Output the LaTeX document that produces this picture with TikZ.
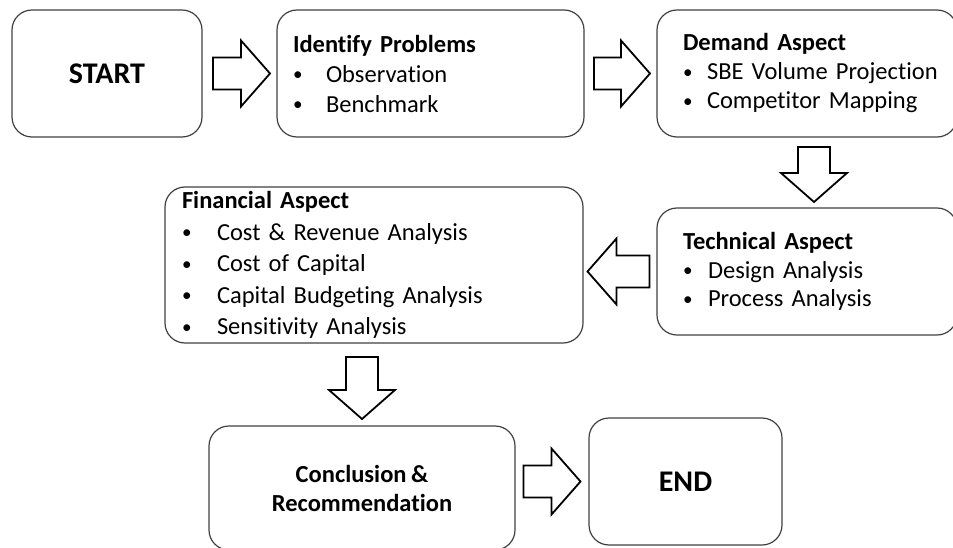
\documentclass[tikz,border=0pt]{standalone}
\usepackage{fontspec}
\setmainfont{Carlito}[Ligatures=CommonOff, WordSpace=0.8]
\usetikzlibrary{calc}

\tikzset{
  stepbox/.style={draw=black!75, line width=1.2pt, rounded corners=20pt,
    outer sep=0pt, inner ysep=0pt, anchor=north west, text=black,
    font=\fontsize{24.5}{30}\selectfont},
  listbox/.style n args={3}{stepbox, minimum width=#1pt, minimum height=#2pt,
    inner xsep=#3pt, text width={#1pt-2*#3pt}, align=left},
  termbox/.style n args={2}{stepbox, minimum width=#1pt, minimum height=#2pt,
    align=center, font=\fontsize{30}{34}\selectfont\bfseries},
  flowarrow/.style={draw=black, line width=1.8pt, fill=white, line join=miter},
}

% bullet item: a small bullet set in a box of width #1, then the text on one line
\newcommand\itm[2]{\mbox{\makebox[#1][l]{\raisebox{1.5pt}{\scalebox{0.78}{\textbullet}}}#2}}

% hollow block arrow centred at #1, turned by #2 degrees, #3 long
\newcommand\blockarrow[3]{%
  \pgfmathsetmacro\halflen{#3/2}%
  \draw[flowarrow, shift={#1}, rotate=#2]
    (-\halflen,-16) -- (\halflen-29,-16) -- (\halflen-29,-33) -- (\halflen,0)
    -- (\halflen-29,33) -- (\halflen-29,16) -- (-\halflen,16) -- cycle;
}

\begin{document}
\begin{tikzpicture}[x=1pt, y=-1pt]
  \useasboundingbox (0,0) rectangle (953,548);
  \clip (0,0) rectangle (953,548);

  % top row
  \node[termbox={190}{127}] (start) at (12,10) {START};
  \node[listbox={307}{127}{16}] (ident) at (277,10)
    {\textbf{Identify Problems}\\
     \itm{33pt}{Observation}\\
     \itm{33pt}{Benchmark}};
  \node[listbox={300}{127}{26}, font=\fontsize{24.5}{29}\selectfont] (demand) at (657,10)
    {\textbf{Demand Aspect}\\
     \itm{24pt}{SBE Volume Projection}\\
     \itm{24pt}{Competitor Mapping}};

  % middle row
  \node[listbox={300}{127}{26}, font=\fontsize{24.5}{28.5}\selectfont] (tech) at (657,208)
    {\textbf{Technical Aspect}\\
     \itm{25pt}{Design Analysis}\\
     \itm{25pt}{Process Analysis}};
  \node[listbox={418}{156}{17}, font=\fontsize{24.5}{31.5}\selectfont] (fin) at (165,187)
    {\textbf{Financial Aspect}\\
     \itm{35pt}{Cost \& Revenue Analysis}\\
     \itm{35pt}{Cost of Capital}\\
     \itm{35pt}{Capital Budgeting Analysis}\\
     \itm{35pt}{Sensitivity Analysis}};

  % bottom row
  \node[stepbox, minimum width=306pt, minimum height=124pt, align=center,
        font=\fontsize{24.5}{29}\selectfont\bfseries] (concl) at (209,426)
    {Conclusion \&\\Recommendation};
  \node[termbox={193}{127}] (end) at (589,418) {END};

  % block arrows between the steps
  \blockarrow{($(start.east)!0.5!(ident.west)+(2,0)$)}{0}{57}
  \blockarrow{($(ident.east)!0.5!(demand.west)+(1.5,0)$)}{0}{56}
  \blockarrow{($(demand.south)!0.5!(tech.north)+(7,2)$)}{-90}{55}
  \blockarrow{($(fin.east |- tech.west)!0.5!(tech.west)+(-1.5,0)$)}{180}{62}
  \blockarrow{($(concl.north |- fin.south)!0.5!(concl.north)+(0,3.5)$)}{-90}{62}
  \blockarrow{($(concl.east |- end.west)!0.5!(end.west)$)}{0}{57}
\end{tikzpicture}
\end{document}
